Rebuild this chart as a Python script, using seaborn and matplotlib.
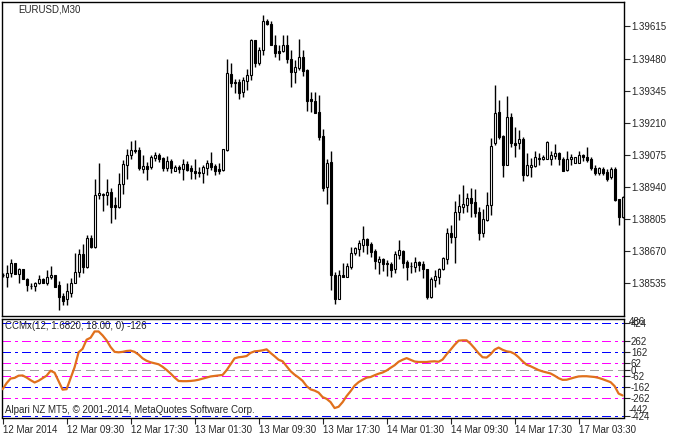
import numpy as np
import pandas as pd
import matplotlib
matplotlib.use("Agg")
import matplotlib.pyplot as plt
import seaborn as sns

# EURUSD M30 candles
open_ = [1.38567, 1.38559, 1.38576, 1.38618, 1.38573, 1.38593, 1.38553, 1.38524, 1.38522, 1.38534,
         1.38553, 1.38534, 1.38559, 1.38567, 1.38525, 1.38480, 1.38466, 1.38494, 1.38536, 1.38581,
         1.38657, 1.38601, 1.38724, 1.38688, 1.38904, 1.38904, 1.38904, 1.38918, 1.38862, 1.38856,
         1.38952, 1.39031, 1.39073, 1.39095, 1.39095, 1.39016, 1.39028, 1.39022, 1.39061, 1.39073,
         1.39061, 1.39019, 1.39047, 1.39008, 1.39022, 1.39014, 1.39036, 1.39019, 1.39008, 1.39002,
         1.38999, 1.39019, 1.39042, 1.39028, 1.39016, 1.39011, 1.39095, 1.39415, 1.39381, 1.39381,
         1.39339, 1.39387, 1.39409, 1.39558, 1.39460, 1.39516, 1.39639, 1.39625, 1.39538, 1.39513,
         1.39511, 1.39538, 1.39479, 1.39423, 1.39440, 1.39488, 1.39432, 1.39308, 1.39300, 1.39255,
         1.39154, 1.38940, 1.39044, 1.38567, 1.38469, 1.38567, 1.38562, 1.38604, 1.38663, 1.38679,
         1.38696, 1.38719, 1.38699, 1.38668, 1.38623, 1.38637, 1.38619, 1.38615, 1.38593, 1.38654,
         1.38671, 1.38623, 1.38608, 1.38604, 1.38623, 1.38615, 1.38593, 1.38475, 1.38548, 1.38562,
         1.38593, 1.38637, 1.38744, 1.38730, 1.38834, 1.38856, 1.38865, 1.38893, 1.38876, 1.38834,
         1.38747, 1.38800, 1.38862, 1.39126, 1.39255, 1.39154, 1.39033, 1.39233, 1.39126, 1.39123,
         1.39143, 1.38988, 1.39025, 1.39028, 1.39061, 1.39056, 1.39058, 1.39056, 1.39070, 1.39081,
         1.39056, 1.39011, 1.39056, 1.39042, 1.39042, 1.39073, 1.39064, 1.39058, 1.39019, 1.38997,
         1.39014, 1.39002, 1.38980, 1.39016, 1.38887, 1.38812]
high = [1.38577, 1.38610, 1.38635, 1.38620, 1.38597, 1.38595, 1.38556, 1.38536, 1.38539, 1.38567,
        1.38556, 1.38590, 1.38607, 1.38570, 1.38545, 1.38494, 1.38534, 1.38556, 1.38660, 1.38679,
        1.38699, 1.38738, 1.38738, 1.38974, 1.39042, 1.38915, 1.38972, 1.38935, 1.38898, 1.38997,
        1.39053, 1.39098, 1.39132, 1.39137, 1.39106, 1.39073, 1.39044, 1.39073, 1.39087, 1.39084,
        1.39067, 1.39070, 1.39056, 1.39033, 1.39033, 1.39058, 1.39047, 1.39031, 1.39058, 1.39025,
        1.39031, 1.39053, 1.39087, 1.39036, 1.39039, 1.39100, 1.39477, 1.39462, 1.39395, 1.39395,
        1.39401, 1.39435, 1.39561, 1.39560, 1.39530, 1.39665, 1.39645, 1.39637, 1.39580, 1.39538,
        1.39580, 1.39580, 1.39516, 1.39474, 1.39564, 1.39516, 1.39437, 1.39339, 1.39339, 1.39325,
        1.39185, 1.39058, 1.39092, 1.38581, 1.38590, 1.38620, 1.38620, 1.38688, 1.38688, 1.38716,
        1.38775, 1.38724, 1.38708, 1.38679, 1.38649, 1.38640, 1.38632, 1.38623, 1.38668, 1.38716,
        1.38674, 1.38632, 1.38623, 1.38646, 1.38626, 1.38626, 1.38595, 1.38559, 1.38590, 1.38598,
        1.38646, 1.38767, 1.38780, 1.38879, 1.38910, 1.38946, 1.38913, 1.38935, 1.38930, 1.38854,
        1.38845, 1.38918, 1.39146, 1.39370, 1.39305, 1.39157, 1.39322, 1.39249, 1.39193, 1.39179,
        1.39148, 1.39081, 1.39061, 1.39092, 1.39084, 1.39073, 1.39134, 1.39092, 1.39120, 1.39087,
        1.39067, 1.39092, 1.39078, 1.39067, 1.39092, 1.39078, 1.39109, 1.39064, 1.39033, 1.39025,
        1.39022, 1.39014, 1.39022, 1.39022, 1.38890, 1.38901]
low = [1.38560, 1.38519, 1.38559, 1.38571, 1.38536, 1.38551, 1.38500, 1.38511, 1.38503, 1.38531,
       1.38534, 1.38525, 1.38553, 1.38517, 1.38421, 1.38441, 1.38441, 1.38477, 1.38534, 1.38562,
       1.38576, 1.38598, 1.38682, 1.38682, 1.38890, 1.38839, 1.38862, 1.38789, 1.38803, 1.38851,
       1.38910, 1.38974, 1.39056, 1.39084, 1.39011, 1.38999, 1.38969, 1.39014, 1.39050, 1.39044,
       1.39005, 1.39008, 1.38997, 1.39005, 1.38997, 1.38969, 1.39008, 1.38974, 1.38974, 1.38983,
       1.38955, 1.38991, 1.39011, 1.38991, 1.38994, 1.39005, 1.39092, 1.39359, 1.39334, 1.39311,
       1.39319, 1.39348, 1.39390, 1.39446, 1.39452, 1.39494, 1.39622, 1.39536, 1.39488, 1.39474,
       1.39508, 1.39460, 1.39361, 1.39376, 1.39432, 1.39407, 1.39258, 1.39255, 1.39249, 1.39137,
       1.38924, 1.38868, 1.38506, 1.38447, 1.38466, 1.38559, 1.38559, 1.38593, 1.38652, 1.38649,
       1.38666, 1.38657, 1.38646, 1.38593, 1.38573, 1.38584, 1.38564, 1.38562, 1.38578, 1.38635,
       1.38598, 1.38548, 1.38578, 1.38581, 1.38587, 1.38556, 1.38466, 1.38472, 1.38519, 1.38531,
       1.38590, 1.38615, 1.38702, 1.38620, 1.38800, 1.38831, 1.38834, 1.38814, 1.38814, 1.38716,
       1.38730, 1.38797, 1.38823, 1.39115, 1.39143, 1.38980, 1.39031, 1.39106, 1.39067, 1.39098,
       1.38966, 1.38986, 1.38983, 1.39025, 1.39031, 1.39053, 1.39056, 1.39031, 1.39056, 1.39031,
       1.39005, 1.39008, 1.39033, 1.39039, 1.39039, 1.39050, 1.39044, 1.39011, 1.38991, 1.38988,
       1.38988, 1.38963, 1.38974, 1.38882, 1.38780, 1.38809]
close = [1.38569, 1.38576, 1.38618, 1.38573, 1.38593, 1.38553, 1.38525, 1.38521, 1.38534, 1.38553,
         1.38536, 1.38562, 1.38567, 1.38519, 1.38477, 1.38461, 1.38500, 1.38536, 1.38581, 1.38657,
         1.38601, 1.38724, 1.38688, 1.38904, 1.38913, 1.38910, 1.38918, 1.38856, 1.38856, 1.38952,
         1.39036, 1.39073, 1.39095, 1.39090, 1.39019, 1.39028, 1.39016, 1.39064, 1.39073, 1.39058,
         1.39019, 1.39047, 1.39019, 1.39022, 1.39014, 1.39036, 1.39011, 1.39005, 1.38997, 1.38997,
         1.39025, 1.39042, 1.39025, 1.39008, 1.39005, 1.39098, 1.39418, 1.39376, 1.39376, 1.39334,
         1.39390, 1.39412, 1.39558, 1.39460, 1.39516, 1.39637, 1.39625, 1.39538, 1.39505, 1.39505,
         1.39538, 1.39479, 1.39423, 1.39443, 1.39488, 1.39426, 1.39303, 1.39303, 1.39252, 1.39151,
         1.38934, 1.39042, 1.38567, 1.38466, 1.38567, 1.38562, 1.38607, 1.38663, 1.38682, 1.38702,
         1.38719, 1.38696, 1.38666, 1.38626, 1.38637, 1.38615, 1.38616, 1.38590, 1.38657, 1.38674,
         1.38620, 1.38604, 1.38605, 1.38623, 1.38612, 1.38593, 1.38477, 1.38553, 1.38564, 1.38595,
         1.38640, 1.38744, 1.38730, 1.38834, 1.38859, 1.38868, 1.38893, 1.38873, 1.38831, 1.38747,
         1.38803, 1.38862, 1.39112, 1.39249, 1.39148, 1.39033, 1.39233, 1.39123, 1.39117, 1.39140,
         1.38988, 1.39031, 1.39031, 1.39067, 1.39056, 1.39064, 1.39129, 1.39073, 1.39081, 1.39056,
         1.39008, 1.39056, 1.39067, 1.39064, 1.39075, 1.39067, 1.39053, 1.39019, 1.38997, 1.39019,
         1.38999, 1.38974, 1.39016, 1.38884, 1.38812, 1.38898]

# CCMx indicator values, one per bar
ccmx = [-179, -124, -82, -76, -56, -54, -73, -97, -118, -102,
        -79, -56, -11, -29, -106, -183, -179, -79, 21, 157,
        189, 272, 290, 347, 347, 311, 266, 205, 161, 157,
        161, 169, 172, 161, 136, 102, 80, 66, 57, 48,
        25, -4, -36, -73, -104, -106, -106, -104, -100, -93,
        -83, -73, -63, -58, -54, -49, -6, 48, 102, 112,
        116, 123, 152, 166, 169, 175, 184, 151, 121, 89,
        75, 30, -15, -47, -73, -103, -151, -181, -192, -210,
        -251, -267, -297, -351, -339, -297, -242, -197, -147, -115,
        -93, -74, -68, -52, -38, -27, -9, 16, 39, 71,
        89, 104, 89, 73, 69, 69, 69, 73, 75, 71,
        91, 139, 181, 225, 263, 266, 266, 234, 193, 148,
        112, 109, 139, 181, 200, 180, 166, 160, 143, 112,
        75, 44, 30, 12, -5, -17, -27, -36, -56, -79,
        -94, -93, -82, -72, -63, -61, -61, -65, -68, -76,
        -88, -102, -115, -151, -219, -236]

price_ticks = [1.38535, 1.38670, 1.38805, 1.38940, 1.39075, 1.39210, 1.39345, 1.39480, 1.39615]
level_blue = [424, 162, -162, -424]
level_magenta = [262, 62, -62, -262]
level_ticks = [424, 262, 162, 62, 0, -62, -162, -262, -424]
time_ticks = [0, 16, 32, 48, 64, 80, 96, 112, 128, 144]
time_labels = ["12 Mar 2014", "12 Mar 09:30", "12 Mar 17:30", "13 Mar 01:30", "13 Mar 09:30",
               "13 Mar 17:30", "14 Mar 01:30", "14 Mar 09:30", "14 Mar 17:30", "17 Mar 03:30"]

df = pd.DataFrame({"open": open_, "high": high, "low": low, "close": close, "ccmx": ccmx})
df["bar"] = np.arange(len(df))
df["bull"] = df["close"] >= df["open"]

sns.set_style("white")
plt.rcParams["font.family"] = ["Liberation Sans", "DejaVu Sans"]
plt.rcParams["font.size"] = 7

W, H = 676, 437
fig = plt.figure(figsize=(W / 100, H / 100), dpi=100)
ax = fig.add_axes([1.5 / W, 1 - 316 / H, (624 - 1.5) / W, (316 - 2) / H])
ax2 = fig.add_axes([1.5 / W, 1 - 417.5 / H, (624 - 1.5) / W, (417.5 - 318.5) / H])

x0 = -0.275
x1 = 155.35

# candles
ax.vlines(df["bar"], df["low"], df["high"], color="black", lw=1, zorder=1)
body_lo = df[["open", "close"]].min(axis=1)
body_h = (df["close"] - df["open"]).abs()
ax.bar(df["bar"], body_h, bottom=body_lo, width=0.52,
       color=np.where(df["bull"], "white", "black"), edgecolor="black", lw=0.8, zorder=2)
ax.set_xlim(x0, x1)
ax.set_ylim(1.38396, 1.39718)
ax.set_xticks([])
ax.yaxis.tick_right()
ax.set_yticks(price_ticks)
ax.set_yticklabels([f"{p:.5f}" for p in price_ticks])
ax.tick_params(axis="y", direction="out", length=4, width=0.8, pad=1, labelsize=7, right=True)

# indicator panel, levels
for lv in level_blue:
    ax2.axhline(lv, color="#0000ff", lw=0.75, dashes=(8, 4, 2, 4), antialiased=False, zorder=1)
for lv in level_magenta:
    ax2.axhline(lv, color="#ff00ff", lw=0.75, dashes=(8, 4, 2, 4), antialiased=False, zorder=1)
ax2.axhline(0, color="#a0a0a0", lw=0.75, dashes=(8, 5), antialiased=False, zorder=1)
sns.lineplot(data=df, x="bar", y="ccmx", ax=ax2, color="#e0701c", lw=1.6, zorder=3)
ax2.set_xlim(x0, x1)
ax2.set_ylim(-437, 465)
ax2.set_xlabel("")
ax2.set_ylabel("")
ax2.yaxis.tick_right()
ax2.set_yticks(level_ticks)
ax2.set_yticklabels([str(v) for v in level_ticks])
ax2.tick_params(axis="y", direction="out", length=4, width=0.8, pad=1, labelsize=7, right=True)
ax2.set_xticks(time_ticks)
ax2.set_xticklabels(time_labels, ha="left")
ax2.tick_params(axis="x", direction="out", length=4, width=0.8, pad=1.5, labelsize=7, bottom=True)

for a in (ax, ax2):
    for s in a.spines.values():
        s.set_color("black")
        s.set_linewidth(1)

fig.text(629 / W, 1 - 322 / H, "486", fontsize=7, va="center", ha="left")
fig.text(629 / W, 1 - 410 / H, "-442", fontsize=7, va="center", ha="left")
fig.text(18 / W, 1 - 10 / H, "EURUSD,M30", fontsize=7, va="center", ha="left")
fig.text(5 / W, 1 - 326 / H, "CCMx(12, 1.6820, 18.00, 0) -126", fontsize=7, va="center", ha="left")
fig.text(5 / W, 1 - 410 / H, "Alpari NZ MT5, \u00a9 2001-2014, MetaQuotes Software Corp.",
         fontsize=7, va="center", ha="left")

fig.savefig("out.png", dpi=100, facecolor="white")
